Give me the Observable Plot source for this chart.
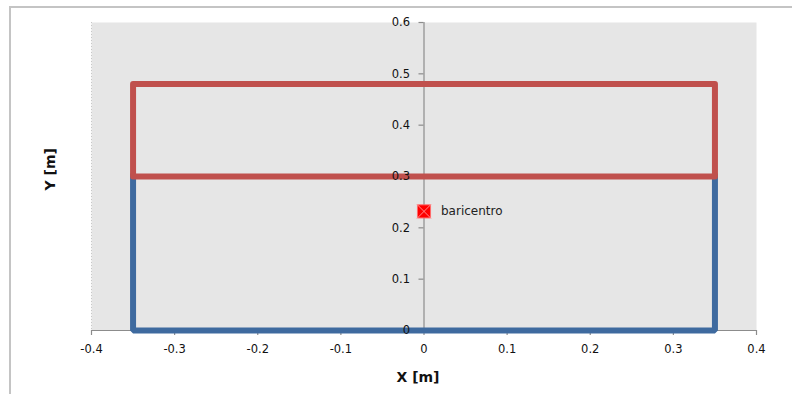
<!DOCTYPE html>
<html>
<head>
<meta charset="utf-8">
<script src="https://cdn.jsdelivr.net/npm/d3@7"></script>
<script src="https://cdn.jsdelivr.net/npm/@observablehq/plot@0.6"></script>
<style>
  html, body { margin: 0; padding: 0; background: #fff; }
  #wrap { position: relative; width: 792px; height: 394px; overflow: hidden; }
  #border { position: absolute; left: 9px; top: 6px; width: 900px; height: 500px;
            border-top: 2px solid #c4c4c4; border-left: 2px solid #c4c4c4; pointer-events: none; }
  svg { font-family: "DejaVu Sans", Verdana, sans-serif; }
</style>
</head>
<body>
<div id="wrap"><div id="border"></div></div>
<script>
// Lower rectangle (blue) outline: open at top, drawn from (−0.35,0.3) down and around
const blueX = [-0.35, -0.35, 0.35, 0.35];
const blueY = [0.3, 0, 0, 0.3];
// Upper rectangle (red) outline
const redX = [-0.35, -0.35, 0.35, 0.35, -0.35];
const redY = [0.3, 0.48, 0.48, 0.3, 0.3];
// Centroid
const centroidX = [0];
const centroidY = [0.232];
const centroidLabel = ["baricentro"];
// Ticks
const xTicks = [-0.4, -0.3, -0.2, -0.1, 0, 0.1, 0.2, 0.3, 0.4];
const xTickLabels = ["-0.4", "-0.3", "-0.2", "-0.1", "0", "0.1", "0.2", "0.3", "0.4"];
const yTicks = [0, 0.1, 0.2, 0.3, 0.4, 0.5, 0.6];
const yTickLabels = ["0", "0.1", "0.2", "0.3", "0.4", "0.5", "0.6"];

const blue = blueX.map((x, i) => ({x, y: blueY[i]}));
const red = redX.map((x, i) => ({x, y: redY[i]}));
const centroid = centroidX.map((x, i) => ({x, y: centroidY[i], label: centroidLabel[i]}));
const xt = xTicks.map((v, i) => ({v, label: xTickLabels[i]}));
const yt = yTicks.map((v, i) => ({v, label: yTickLabels[i]}));

const chart = Plot.plot({
  width: 792,
  height: 394,
  marginLeft: 91,
  marginRight: 36,
  marginTop: 22,
  marginBottom: 64,
  style: {fontFamily: "DejaVu Sans, Verdana, sans-serif", background: "transparent", overflow: "visible"},
  x: {domain: [-0.4, 0.4], axis: null},
  y: {domain: [0, 0.6], axis: null},
  marks: [
    Plot.frame({fill: "#e6e6e6", stroke: null}),
    Plot.ruleX([-0.4], {stroke: "#c8c8c8", strokeDasharray: "1,2"}),
    // x axis line and ticks
    Plot.ruleY([0], {stroke: "#8c8c8c", strokeWidth: 1.2}),
    Plot.ruleX(xt, {x: "v", y1: 0, y2: 0, insetBottom: -5, stroke: "#8c8c8c", strokeWidth: 1.2}),
    // y axis line at x=0 and ticks
    Plot.ruleX([0], {stroke: "#8c8c8c", strokeWidth: 1.2}),
    Plot.ruleY(yt, {y: "v", x1: 0, x2: 0, insetLeft: -5, stroke: "#8c8c8c", strokeWidth: 1.2}),
    // shapes
    Plot.line(blue, {x: "x", y: "y", stroke: "#3e6a9f", strokeWidth: 6, strokeLinejoin: "miter", strokeLinecap: "square"}),
    Plot.line(red, {x: "x", y: "y", stroke: "#c0504d", strokeWidth: 6, strokeLinejoin: "round", strokeLinecap: "round"}),
    // tick labels
    Plot.text(yt, {x: 0, y: "v", text: "label", dx: -14, textAnchor: "end", fontSize: 11.5, fill: "#111"}),
    Plot.text(xt, {x: "v", y: 0, text: "label", dy: 19, fontSize: 11.5, fill: "#111"}),
    // centroid
    Plot.dot(centroid, {x: "x", y: "y", symbol: "square", r: 7.4, fill: "#ff0000", stroke: "#ff6a6a", strokeWidth: 1}),
    Plot.dot(centroid, {x: "x", y: "y", symbol: "times", r: 6.5, stroke: "#ff8c8c", strokeWidth: 1}),
    Plot.text(centroid, {x: "x", y: "y", text: "label", dx: 17, textAnchor: "start", fontSize: 12, fill: "#222"}),
    // axis titles
    Plot.text(["X [m]"], {frameAnchor: "bottom", dx: -6, dy: 51, fontSize: 14, fontWeight: "bold", fill: "#111"}),
    Plot.text(["Y [m]"], {frameAnchor: "left", dx: -41, dy: 14, rotate: -90, fontSize: 14, fontWeight: "bold", fill: "#111"})
  ]
});
document.getElementById("wrap").prepend(chart);
chart.style.position = "absolute";
chart.style.left = "0";
chart.style.top = "0";
</script>
</body>
</html>
